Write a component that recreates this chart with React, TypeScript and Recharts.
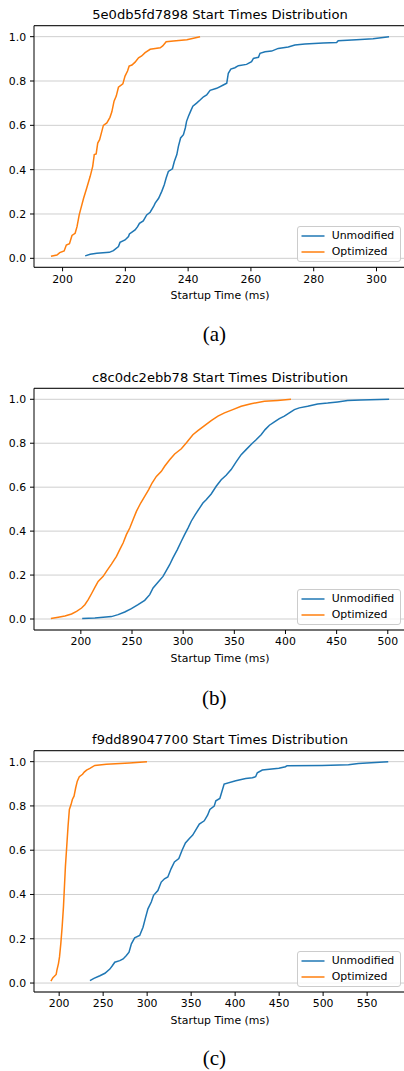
import React from 'react';
import { LineChart, Line, XAxis, YAxis, CartesianGrid, Legend, Label, ReferenceLine } from 'recharts';

// ---------- data ----------
const seriesNames = ['Unmodified', 'Optimized'];
const seriesColors = ['#1f77b4', '#ff7f0e'];
const yTicks = [0, 0.2, 0.4, 0.6, 0.8, 1.0];
const xLabel = 'Startup Time (ms)';

// (a)
const aTitle = '5e0db5fd7898 Start Times Distribution';
const aCaption = '(a)';
const aXTicks = [200, 220, 240, 260, 280, 300];
const aUnmodMs = [207.2, 208.8, 210.9, 214.9, 216.2, 217.8, 218.3, 219.9, 221.0, 221.3, 223.1, 223.9, 224.5, 225.7, 226.8, 227.9, 229.0, 229.5, 230.6, 231.6, 232.4, 233.0, 233.7, 235.0, 235.6, 236.4, 236.9, 237.6, 238.5, 239.1, 239.5, 240.1, 240.8, 241.5, 242.7, 243.8, 244.9, 245.9, 247.0, 249.1, 251.2, 252.3, 252.8, 253.6, 254.9, 256.0, 258.6, 260.2, 260.8, 262.4, 262.9, 264.5, 266.6, 268.7, 271.9, 274.0, 277.2, 283.0, 287.3, 287.8, 293.6, 298.9, 304.0];
const aUnmodCdf = [0.011, 0.018, 0.023, 0.027, 0.035, 0.053, 0.072, 0.083, 0.098, 0.110, 0.128, 0.143, 0.158, 0.169, 0.196, 0.208, 0.234, 0.249, 0.271, 0.302, 0.332, 0.362, 0.392, 0.404, 0.437, 0.468, 0.505, 0.543, 0.558, 0.588, 0.618, 0.641, 0.664, 0.686, 0.700, 0.714, 0.729, 0.737, 0.758, 0.767, 0.782, 0.790, 0.835, 0.854, 0.860, 0.869, 0.875, 0.887, 0.902, 0.907, 0.925, 0.932, 0.935, 0.947, 0.953, 0.962, 0.967, 0.971, 0.974, 0.982, 0.986, 0.991, 1.000];
const aOptMs = [196.3, 198.2, 199.1, 200.5, 201.2, 202.2, 203.0, 204.0, 204.6, 205.3, 205.8, 206.7, 207.7, 208.8, 209.6, 210.1, 210.7, 211.2, 211.8, 212.5, 213.0, 214.1, 215.1, 215.7, 216.4, 217.1, 217.8, 219.2, 219.9, 220.7, 221.2, 222.1, 223.1, 224.2, 225.2, 226.3, 227.9, 229.5, 231.1, 231.9, 233.0, 235.3, 239.6, 243.8];
const aOptCdf = [0.009, 0.015, 0.026, 0.033, 0.060, 0.066, 0.103, 0.113, 0.143, 0.196, 0.223, 0.271, 0.317, 0.370, 0.415, 0.468, 0.471, 0.520, 0.535, 0.573, 0.600, 0.611, 0.636, 0.661, 0.709, 0.732, 0.772, 0.787, 0.822, 0.845, 0.867, 0.872, 0.885, 0.905, 0.913, 0.928, 0.943, 0.947, 0.950, 0.958, 0.977, 0.980, 0.986, 1.000];

// (b)
const bTitle = 'c8c0dc2ebb78 Start Times Distribution';
const bCaption = '(b)';
const bXTicks = [200, 250, 300, 350, 400, 450, 500];
const bUnmodMs = [201.3, 213.7, 229.9, 236.4, 242.9, 249.4, 255.9, 262.4, 267.3, 270.6, 275.4, 280.3, 283.5, 286.8, 290.0, 294.3, 298.2, 301.4, 304.7, 307.9, 311.8, 316.0, 319.3, 322.5, 327.4, 332.3, 337.2, 342.0, 346.9, 351.8, 356.7, 361.5, 366.4, 371.3, 376.2, 380.1, 384.3, 389.2, 394.0, 398.9, 403.8, 408.7, 413.5, 421.7, 431.4, 441.2, 450.9, 460.7, 473.7, 501.3];
const bUnmodCdf = [0.002, 0.005, 0.011, 0.020, 0.032, 0.047, 0.065, 0.085, 0.111, 0.141, 0.167, 0.194, 0.220, 0.247, 0.278, 0.316, 0.354, 0.384, 0.414, 0.445, 0.475, 0.505, 0.528, 0.543, 0.569, 0.604, 0.634, 0.654, 0.680, 0.715, 0.748, 0.771, 0.794, 0.816, 0.839, 0.862, 0.882, 0.897, 0.912, 0.923, 0.938, 0.953, 0.961, 0.968, 0.979, 0.983, 0.988, 0.994, 0.997, 1.000];
const bOptMs = [170.7, 177.9, 184.4, 190.9, 195.8, 200.7, 203.9, 207.2, 210.4, 213.7, 216.9, 221.8, 225.0, 229.9, 234.8, 238.0, 241.3, 244.5, 247.8, 251.0, 254.3, 258.5, 262.4, 266.3, 269.6, 273.8, 278.7, 281.9, 286.8, 291.7, 298.2, 303.0, 309.5, 314.4, 320.9, 327.4, 334.0, 340.4, 348.5, 356.7, 366.4, 379.4, 392.4, 405.4];
const bOptCdf = [0.002, 0.008, 0.014, 0.023, 0.035, 0.050, 0.065, 0.088, 0.115, 0.144, 0.171, 0.194, 0.217, 0.250, 0.285, 0.316, 0.346, 0.384, 0.414, 0.452, 0.490, 0.528, 0.558, 0.589, 0.619, 0.649, 0.672, 0.695, 0.725, 0.751, 0.775, 0.801, 0.839, 0.857, 0.880, 0.903, 0.923, 0.938, 0.953, 0.968, 0.980, 0.991, 0.995, 1.000];

// (c)
const cTitle = 'f9dd89047700 Start Times Distribution';
const cCaption = '(c)';
const cXTicks = [200, 250, 300, 350, 400, 450, 500, 550];
const cUnmodMs = [235.0, 239.5, 246.3, 252.0, 257.6, 260.6, 263.2, 268.9, 272.7, 276.4, 279.4, 282.1, 285.8, 291.5, 295.3, 298.3, 300.9, 304.7, 307.3, 312.2, 316.0, 319.7, 323.5, 327.3, 331.0, 336.0, 339.7, 343.5, 348.0, 351.8, 355.5, 359.3, 364.9, 368.7, 371.3, 376.2, 378.1, 382.6, 384.9, 387.5, 400.7, 412.0, 419.6, 423.3, 425.2, 430.9, 449.7, 457.2, 459.1, 498.7, 528.8, 540.1, 574.0];
const cUnmodCdf = [0.011, 0.021, 0.033, 0.044, 0.063, 0.079, 0.094, 0.101, 0.109, 0.124, 0.139, 0.177, 0.204, 0.215, 0.252, 0.298, 0.335, 0.366, 0.396, 0.418, 0.456, 0.471, 0.479, 0.517, 0.547, 0.562, 0.600, 0.633, 0.653, 0.668, 0.693, 0.718, 0.733, 0.758, 0.784, 0.799, 0.823, 0.834, 0.864, 0.899, 0.914, 0.924, 0.927, 0.932, 0.950, 0.962, 0.970, 0.977, 0.982, 0.983, 0.986, 0.992, 1.000];
const cOptMs = [190.6, 192.9, 196.6, 197.4, 199.2, 200.4, 201.9, 203.4, 204.9, 206.0, 207.1, 208.6, 210.1, 211.6, 213.5, 215.0, 216.9, 218.8, 220.6, 222.9, 226.6, 228.5, 231.1, 234.9, 240.5, 253.6, 279.9, 299.8];
const cOptCdf = [0.009, 0.024, 0.039, 0.057, 0.088, 0.118, 0.179, 0.254, 0.345, 0.436, 0.526, 0.617, 0.708, 0.784, 0.806, 0.829, 0.844, 0.882, 0.912, 0.932, 0.943, 0.953, 0.962, 0.970, 0.983, 0.988, 0.994, 1.000];

const zip = (xs: number[], ys: number[]) => xs.map((x, i) => ({ x, y: ys[i] }));

const FONT = "'DejaVu Sans', sans-serif";
const TICK_FS = 10.9;

const LegendBox = (props: any) => {
  const payload = [...(props.payload || [])].sort(
    (a: any, b: any) => seriesNames.indexOf(a.value) - seriesNames.indexOf(b.value)
  );
  return (
    <div
      style={{
        position: 'relative',
        width: 104,
        height: 36,
        boxSizing: 'border-box',
        border: '1px solid #cccccc',
        borderRadius: 3,
        background: 'rgba(255,255,255,0.8)',
        fontFamily: FONT,
        fontSize: TICK_FS,
        color: '#000',
      }}
    >
      {payload.map((e: any, i: number) => (
        <div
          key={i}
          style={{ position: 'absolute', left: 0, top: 1 + i * 16, height: 16, width: 102, display: 'flex', alignItems: 'center' }}
        >
          <svg width={34} height={16} style={{ display: 'block' }}>
            <line x1={3.5} x2={26.5} y1={8} y2={8} stroke={e.color} strokeWidth={1.5} />
          </svg>
          <span style={{ lineHeight: '16px', whiteSpace: 'nowrap' }}>{e.value}</span>
        </div>
      ))}
    </div>
  );
};

type PanelProps = {
  top: number;
  height: number;
  marginTop: number;
  marginBottom: number;
  title: string;
  titleY: number;
  caption: string;
  captionY: number;
  xDomain: [number, number];
  yDomain: [number, number];
  xTicks: number[];
  unmod: { x: number; y: number }[];
  opt: { x: number; y: number }[];
};

const W = 406;
const YAXIS_W = 34;
const XAXIS_H = 33;

const Panel = (p: PanelProps) => {
  const plotBottom = p.height - p.marginBottom - XAXIS_H;
  const plotCenterX = YAXIS_W + (W - YAXIS_W) / 2;
  return (
    <div style={{ position: 'absolute', left: 0, top: p.top }}>
      <LineChart
        width={W}
        height={p.height}
        margin={{ top: p.marginTop, right: 0, bottom: p.marginBottom, left: 0 }}
        style={{ fontFamily: FONT }}
      >
        <CartesianGrid horizontal vertical={false} stroke="#cfcfcf" strokeWidth={1} />
        <XAxis
          dataKey="x"
          type="number"
          domain={p.xDomain}
          allowDataOverflow
          ticks={p.xTicks}
          height={XAXIS_H}
          tickSize={4}
          tickMargin={3.5}
          axisLine={{ stroke: '#000', strokeWidth: 1 }}
          tickLine={{ stroke: '#000', strokeWidth: 1 }}
          tick={{ fill: '#000', fontSize: TICK_FS, fontFamily: FONT }}
        >
          <Label value={xLabel} position="insideBottom" offset={1.3} fill="#000" fontSize={TICK_FS} fontFamily={FONT} />
        </XAxis>
        <YAxis
          type="number"
          domain={p.yDomain}
          allowDataOverflow
          ticks={yTicks}
          width={YAXIS_W}
          tickSize={4}
          tickMargin={3.8}
          tickFormatter={(v: number) => v.toFixed(1)}
          axisLine={{ stroke: '#000', strokeWidth: 1 }}
          tickLine={{ stroke: '#000', strokeWidth: 1 }}
          tick={{ fill: '#000', fontSize: TICK_FS, fontFamily: FONT }}
        />
        <ReferenceLine y={p.yDomain[1]} stroke="#000" strokeWidth={1} ifOverflow="visible" />
        <Line
          data={p.unmod}
          dataKey="y"
          name={seriesNames[0]}
          type="linear"
          stroke={seriesColors[0]}
          strokeWidth={1.5}
          dot={false}
          activeDot={false}
          isAnimationActive={false}
        />
        <Line
          data={p.opt}
          dataKey="y"
          name={seriesNames[1]}
          type="linear"
          stroke={seriesColors[1]}
          strokeWidth={1.5}
          dot={false}
          activeDot={false}
          isAnimationActive={false}
        />
        <Legend
          layout="vertical"
          align="center"
          verticalAlign="middle"
          content={<LegendBox />}
          wrapperStyle={{ left: 296.7, top: plotBottom - 5.3 - 36, width: 104, height: 36, right: 'auto', bottom: 'auto' }}
        />
        <text x={plotCenterX} y={p.titleY} textAnchor="middle" fontSize={13.1} fontFamily={FONT} fill="#000">
          {p.title}
        </text>
        <text x={214.3} y={p.captionY} textAnchor="middle" fontSize={21} fontFamily="'Liberation Serif', 'Times New Roman', serif" fill="#000">
          {p.caption}
        </text>
      </LineChart>
    </div>
  );
};

export default function App() {
  return (
    <div style={{ position: 'absolute', left: 0, top: 0, width: 404, height: 1071, overflow: 'hidden', background: '#fff' }}>
      <Panel
        top={0}
        height={355}
        marginTop={25.7}
        marginBottom={355 - 267.3 - XAXIS_H}
        title={aTitle}
        titleY={19}
        caption={aCaption}
        captionY={340.5}
        xDomain={[190.9, 309.4]}
        yDomain={[-0.0405, 1.0495]}
        xTicks={aXTicks}
        unmod={zip(aUnmodMs, aUnmodCdf)}
        opt={zip(aOptMs, aOptCdf)}
      />
      <Panel
        top={355}
        height={360}
        marginTop={33.3}
        marginBottom={360 - 275 - XAXIS_H}
        title={bTitle}
        titleY={26.8}
        caption={bCaption}
        captionY={350}
        xDomain={[154.2, 517.8]}
        yDomain={[-0.05, 1.05]}
        xTicks={bXTicks}
        unmod={zip(bUnmodMs, bUnmodCdf)}
        opt={zip(bOptMs, bOptCdf)}
      />
      <Panel
        top={715}
        height={356}
        marginTop={35.7}
        marginBottom={356 - 277 - XAXIS_H}
        title={cTitle}
        titleY={29.2}
        caption={cCaption}
        captionY={349.5}
        xDomain={[171.4, 594.2]}
        yDomain={[-0.0405, 1.0495]}
        xTicks={cXTicks}
        unmod={zip(cUnmodMs, cUnmodCdf)}
        opt={zip(cOptMs, cOptCdf)}
      />
    </div>
  );
}
